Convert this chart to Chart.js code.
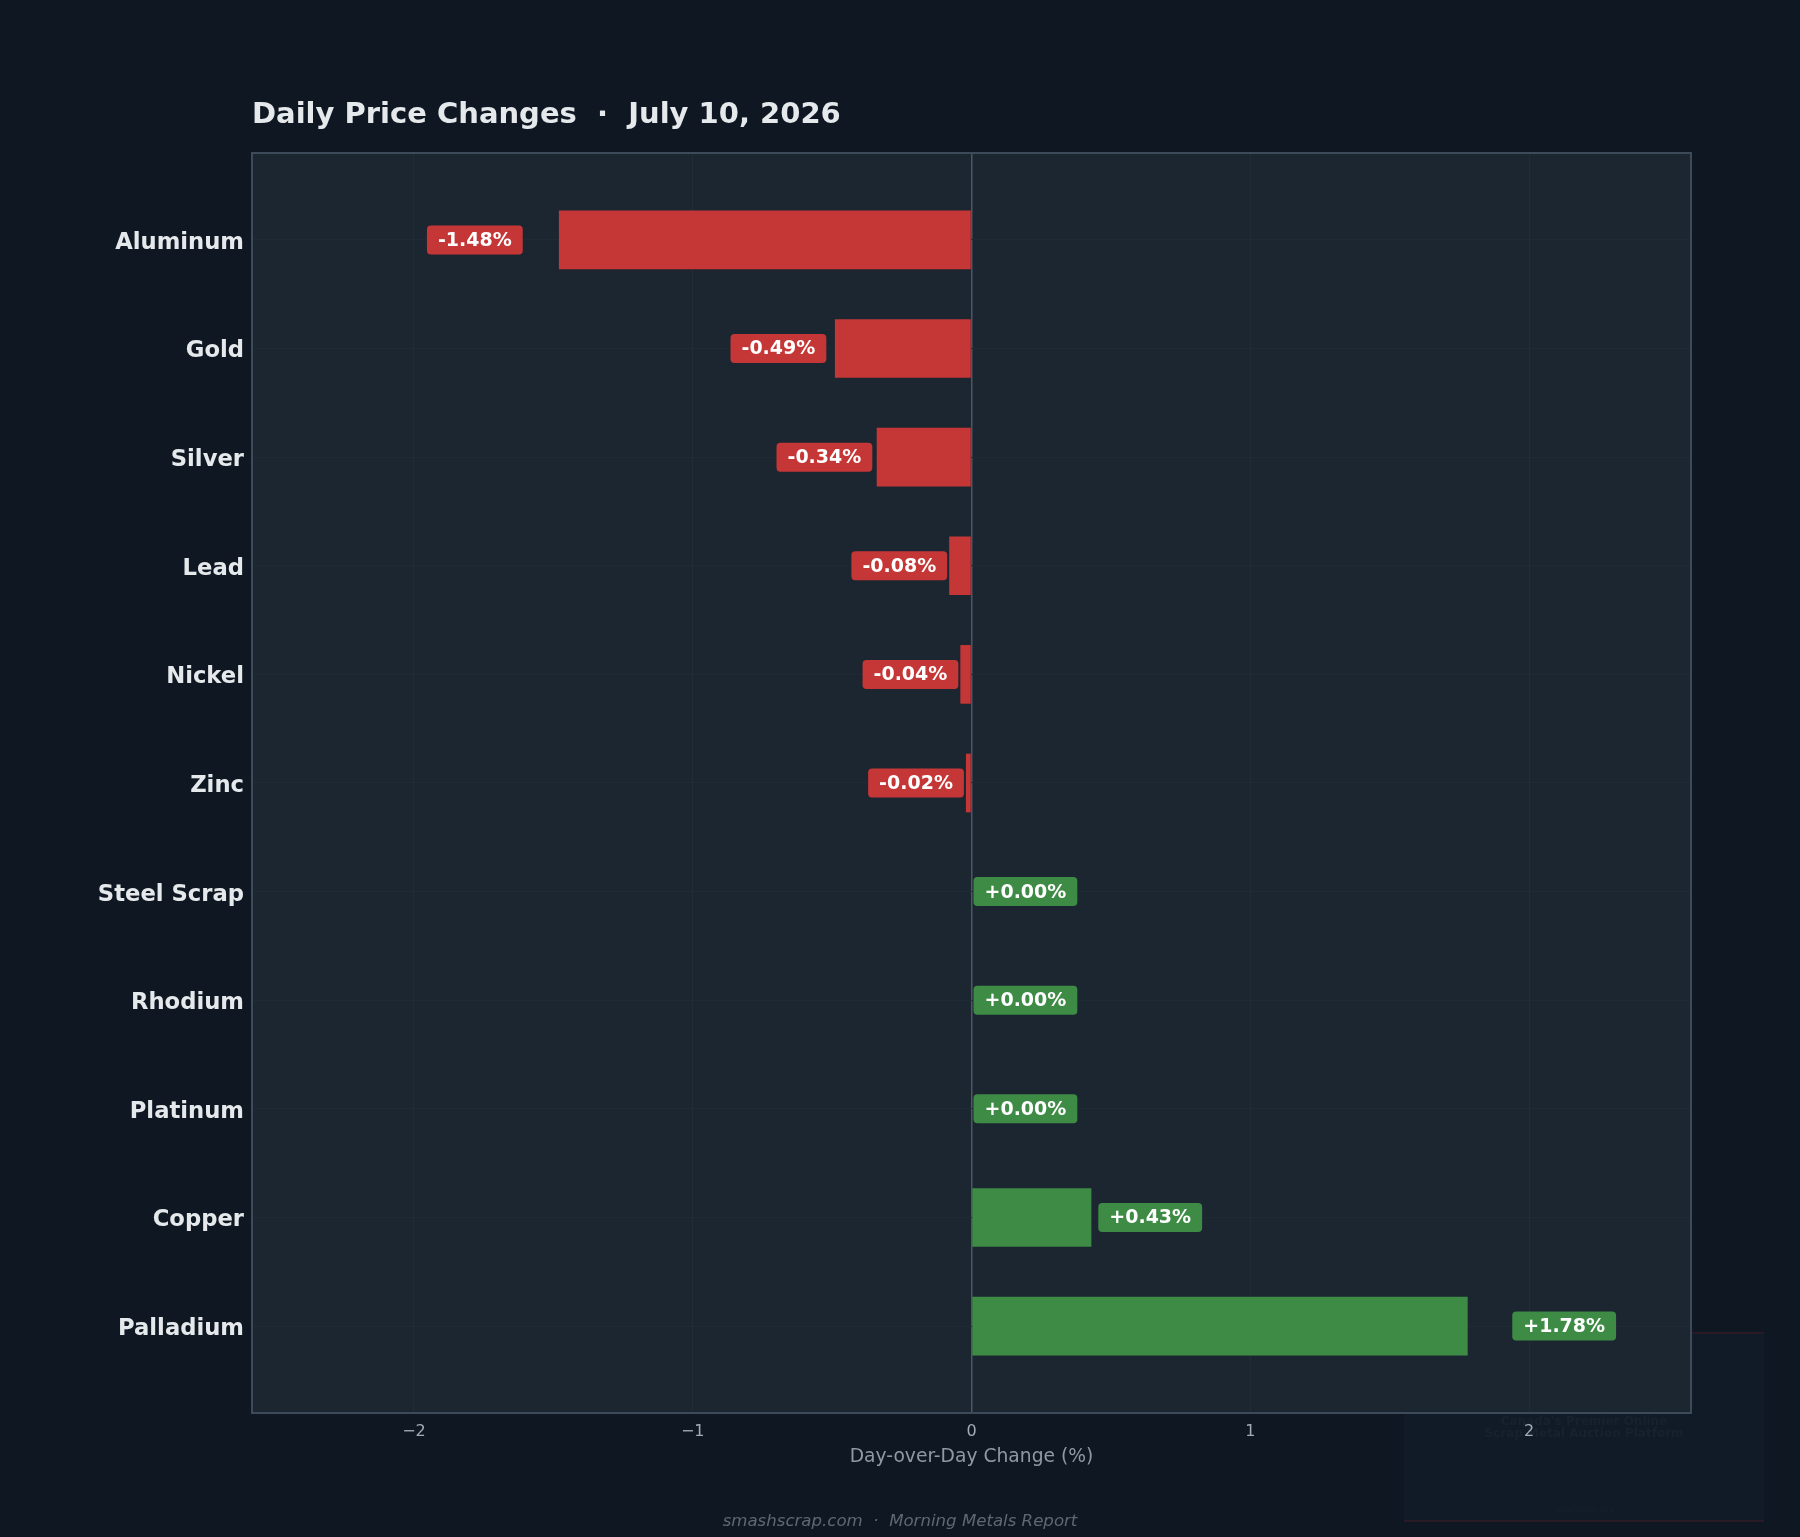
<!DOCTYPE html>
<html>
<head>
<meta charset="utf-8">
<script src="https://cdn.jsdelivr.net/npm/chart.js@4.4.1/dist/chart.umd.min.js"></script>
<style>
  html, body { margin: 0; padding: 0; background: #0f1822; }
  #wrap { width: 1800px; height: 1537px; }
</style>
</head>
<body>
<div id="wrap"><canvas id="myChart" width="1800" height="1537"></canvas></div>
<script>
// data
const metals = ['Aluminum', 'Gold', 'Silver', 'Lead', 'Nickel', 'Zinc', 'Steel Scrap', 'Rhodium', 'Platinum', 'Copper', 'Palladium'];
const changes = [-1.48, -0.49, -0.34, -0.08, -0.04, -0.02, 0.00, 0.00, 0.00, 0.43, 1.78];
const xTicks = [-2, -1, 0, 1, 2];
const titleText = 'Daily Price Changes  \u00b7  July 10, 2026';
const xTitle = 'Day-over-Day Change (%)';
const footerText = 'smashscrap.com  \u00b7  Morning Metals Report';
const badgeLines = ["Canada's Premier Online", 'Scrap Metal Auction Platform'];

const FONT = '"DejaVu Sans", "Liberation Sans", sans-serif';
const RED = '#c53636';
const GREEN = '#3d8b45';
const lim = Math.max(...changes.map(Math.abs)) * 1.45;

const backdrop = {
    id: 'backdrop',
    beforeDraw(chart) {
        const ctx = chart.ctx;
        const a = chart.chartArea;
        ctx.save();
        ctx.fillStyle = '#0f1822';
        ctx.fillRect(0, 0, chart.width, chart.height);

        // faint watermark badge, mostly hidden under the plot
        ctx.fillStyle = '#101b27';
        ctx.fillRect(1404, 1333, 360, 188);
        ctx.strokeStyle = '#2a1a25';
        ctx.lineWidth = 2;
        ctx.beginPath();
        ctx.moveTo(1404, 1333); ctx.lineTo(1764, 1333);
        ctx.moveTo(1404, 1521); ctx.lineTo(1764, 1521);
        ctx.stroke();
        ctx.fillStyle = '#18222e';
        ctx.font = 'bold 12px ' + FONT;
        ctx.textAlign = 'center';
        ctx.textBaseline = 'middle';
        ctx.fillText(badgeLines[0], 1584, 1422);
        ctx.fillText(badgeLines[1], 1584, 1434);
        ctx.font = '7px ' + FONT;
        ctx.fillText('smashscrap.com', 1584, 1510);

        // plot background
        ctx.fillStyle = '#1c2631';
        ctx.fillRect(a.left, a.top, a.right - a.left, a.bottom - a.top);
        ctx.restore();
    },
    afterDraw(chart) {
        const ctx = chart.ctx;
        const a = chart.chartArea;
        ctx.save();
        ctx.strokeStyle = '#3c4a59';
        ctx.lineWidth = 2;
        ctx.strokeRect(a.left, a.top, a.right - a.left, a.bottom - a.top);

        ctx.fillStyle = '#e6e9ec';
        ctx.font = 'bold 29px ' + FONT;
        ctx.textAlign = 'left';
        ctx.textBaseline = 'alphabetic';
        ctx.fillText(titleText, a.left, 123);

        ctx.fillStyle = '#5d6873';
        ctx.font = 'italic 16.6px ' + FONT;
        ctx.textAlign = 'center';
        ctx.fillText(footerText, chart.width / 2, 1526);
        ctx.restore();
    }
};

// value badges at the bar ends
const valueBadges = {
    id: 'valueBadges',
    afterDatasetsDraw(chart) {
        const ctx = chart.ctx;
        const meta = chart.getDatasetMeta(0);
        ctx.save();
        ctx.font = 'bold 19px ' + FONT;
        ctx.textAlign = 'center';
        ctx.textBaseline = 'middle';
        meta.data.forEach((bar, i) => {
            const v = changes[i];
            const len = Math.abs(bar.x - bar.base);
            const gap = Math.max(2, 0.1 * len - 5);
            const text = (v < 0 ? '-' : '+') + Math.abs(v).toFixed(2) + '%';
            const w = ctx.measureText(text).width + 22;
            const h = 29;
            const x0 = v < 0 ? bar.x - gap - w : bar.x + gap;
            const y0 = bar.y - h / 2;
            ctx.fillStyle = v < 0 ? RED : GREEN;
            ctx.beginPath();
            ctx.roundRect(x0, y0, w, h, 4);
            ctx.fill();
            ctx.fillStyle = '#ffffff';
            ctx.fillText(text, x0 + w / 2, bar.y + 1);
        });
        ctx.restore();
    }
};

const ctx = document.getElementById('myChart').getContext('2d');
const chart = new Chart(ctx, {
    type: 'bar',
    data: {
        datasets: [{
            data: changes.map((v, i) => ({ x: v, y: i })),
            backgroundColor: changes.map(v => v < 0 ? RED : GREEN),
            borderWidth: 0,
            barPercentage: 0.54,
            categoryPercentage: 1
        }]
    },
    options: {
        indexAxis: 'y',
        responsive: false,
        animation: false,
        layout: { padding: { top: 153, right: 109, left: 0, bottom: 0 } },
        plugins: {
            legend: { display: false },
            tooltip: { enabled: false }
        },
        scales: {
            x: {
                type: 'linear',
                min: -lim,
                max: lim,
                bounds: 'data',
                afterBuildTicks: s => { s.ticks = xTicks.map(v => ({ value: v })); },
                afterFit: s => { s.height = 124; },
                border: { display: false },
                grid: {
                    drawTicks: false,
                    color: c => (c.tick && c.tick.value === 0) ? '#4c5766' : '#212c37',
                    lineWidth: c => (c.tick && c.tick.value === 0) ? 1.5 : 1
                },
                ticks: {
                    padding: 9,
                    color: '#a3acb5',
                    font: { family: FONT, size: 16 },
                    callback: v => v < 0 ? '\u2212' + Math.abs(v) : String(v)
                },
                title: {
                    display: true,
                    text: xTitle,
                    color: '#8f99a3',
                    font: { family: FONT, size: 18.7 },
                    padding: { top: 0, bottom: 69 }
                }
            },
            y: {
                type: 'linear',
                reverse: true,
                offset: false,
                bounds: 'data',
                min: -0.8,
                max: metals.length - 0.2,
                afterBuildTicks: s => { s.ticks = metals.map((m, i) => ({ value: i })); },
                afterFit: s => { s.width = 252; },
                border: { display: false },
                grid: { drawTicks: false, offset: false, color: '#202a35' },
                ticks: {
                    padding: 8,
                    labelOffset: 3,
                    color: '#e6e9ec',
                    font: { family: FONT, size: 22.7, weight: 'bold' },
                    callback: v => metals[v]
                }
            }
        }
    },
    plugins: [backdrop, valueBadges]
});
</script>
</body>
</html>
